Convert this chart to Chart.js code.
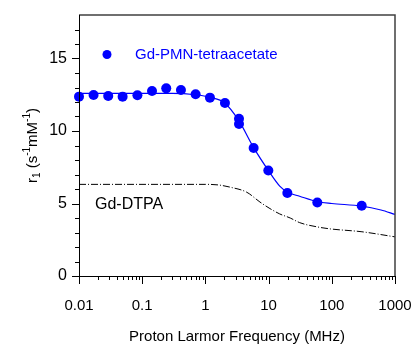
<!DOCTYPE html>
<html>
<head>
<meta charset="utf-8">
<script src="https://cdn.jsdelivr.net/npm/chart.js@4"></script>
<style>
html,body{margin:0;padding:0;background:#fff;}
#wrap{width:414px;height:344px;}
</style>
</head>
<body>
<div id="wrap"><canvas id="c" width="414" height="344"></canvas></div>
<script>
// Measured points: Gd-PMN-tetraacetate
const pointFreq = [0.01, 0.017, 0.029, 0.049, 0.084, 0.143, 0.24, 0.41, 0.70, 1.18, 2.04, 3.4, 3.4, 5.8, 9.9, 19.8, 59, 297];
const pointR1   = [12.37, 12.48, 12.41, 12.37, 12.46, 12.76, 12.94, 12.83, 12.53, 12.30, 11.93, 10.85, 10.48, 8.83, 7.27, 5.73, 5.07, 4.84];
// Fitted curve for Gd-PMN-tetraacetate
const fitFreq = [0.01, 0.1, 0.3, 0.7, 1.2, 2, 3.4, 5.8, 10, 15, 20, 31, 60, 100, 300, 600, 1000];
const fitR1   = [12.6, 12.6, 12.6, 12.5, 12.32, 11.95, 10.7, 8.85, 7.25, 6.2, 5.78, 5.5, 5.12, 5.0, 4.82, 4.55, 4.25];
// Gd-DTPA curve
const dtpaFreq = [0.01, 1, 1.6, 2.5, 4.5, 7.3, 10.5, 15, 22, 31, 60, 94, 300, 1000];
const dtpaR1   = [6.32, 6.32, 6.28, 6.12, 5.78, 5.1, 4.65, 4.28, 4.0, 3.68, 3.38, 3.25, 3.05, 2.7];
// Axis ticks
const xTickValues = [0.01, 0.1, 1, 10, 100, 1000];
const xTickLabels = ['0.01', '0.1', '1', '10', '100', '1000'];
const yTickValues = [0, 5, 10, 15];
const yTickLabels = ['0', '5', '10', '15'];
const yMinorValues = [1,2,3,4,6,7,8,9,11,12,13,14,16,17];
const seriesName = 'Gd-PMN-tetraacetate';
const refName = 'Gd-DTPA';

const FONT = "'Liberation Sans', Arial, sans-serif";
const BLUE = '#0000ff';

function zip(xs, ys){ return xs.map((x,i)=>({x:x, y:ys[i]})); }

const decorPlugin = {
  id: 'decor',
  afterDraw(chart){
    const ctx = chart.ctx;
    const a = chart.chartArea;
    const xs = chart.scales.x, ys = chart.scales.y;
    ctx.save();
    // frame top/right
    ctx.strokeStyle = '#404040';
    ctx.lineWidth = 1.5;
    ctx.beginPath();
    ctx.moveTo(a.left, a.top); ctx.lineTo(a.right, a.top); ctx.lineTo(a.right, a.bottom);
    ctx.stroke();
    // axes
    ctx.strokeStyle = '#000';
    ctx.lineWidth = 1;
    ctx.beginPath();
    ctx.moveTo(a.left+0.5, a.top); ctx.lineTo(a.left+0.5, a.bottom+0.5); ctx.lineTo(a.right, a.bottom+0.5);
    ctx.stroke();
    // x ticks
    ctx.beginPath();
    for (let d = 0; d < xTickValues.length; d++){
      const v = xTickValues[d];
      const px = Math.round(xs.getPixelForValue(v))+0.5;
      ctx.moveTo(px, a.bottom); ctx.lineTo(px, a.bottom+8);
      if (d < xTickValues.length-1){
        for (let m = 2; m <= 9; m++){
          const mp = Math.round(xs.getPixelForValue(v*m))+0.5;
          ctx.moveTo(mp, a.bottom); ctx.lineTo(mp, a.bottom+4);
        }
      }
    }
    // y ticks
    yTickValues.forEach(v=>{
      const py = Math.round(ys.getPixelForValue(v))+0.5;
      ctx.moveTo(a.left, py); ctx.lineTo(a.left-7, py);
    });
    yMinorValues.forEach(v=>{
      const py = Math.round(ys.getPixelForValue(v))+0.5;
      ctx.moveTo(a.left, py); ctx.lineTo(a.left-4, py);
    });
    ctx.stroke();

    // legend
    const lx = a.left + 28, ly = a.top + 39.5;
    ctx.fillStyle = BLUE;
    ctx.beginPath(); ctx.arc(lx, ly, 4.5, 0, Math.PI*2); ctx.fill();
    ctx.font = '15px ' + FONT;
    ctx.textBaseline = 'middle';
    ctx.textAlign = 'left';
    ctx.fillText(seriesName, a.left + 56, ly);
    // Gd-DTPA label
    ctx.fillStyle = '#000';
    ctx.font = '16px ' + FONT;
    ctx.fillText(refName, a.left + 16, ys.getPixelForValue(4.9));

    // y axis title with sub/superscripts
    const parts = [
      {t:'r', s:15, dy:0},
      {t:'1', s:10, dy:4},
      {t:' (s', s:15, dy:0},
      {t:'-1', s:10, dy:-6},
      {t:'mM', s:15, dy:0},
      {t:'-1', s:10, dy:-6},
      {t:')', s:15, dy:0}
    ];
    let total = 0;
    parts.forEach(p=>{ ctx.font = p.s+'px '+FONT; p.w = ctx.measureText(p.t).width; total += p.w; });
    ctx.translate(33, (a.top + a.bottom)/2);
    ctx.rotate(-Math.PI/2);
    ctx.fillStyle = '#000';
    ctx.textAlign = 'left';
    ctx.textBaseline = 'middle';
    let cx = -total/2;
    parts.forEach(p=>{
      ctx.font = p.s+'px '+FONT;
      ctx.fillText(p.t, cx, p.dy);
      cx += p.w;
    });
    ctx.restore();
  }
};

new Chart(document.getElementById('c'), {
  type: 'scatter',
  data: {
    datasets: [
      {
        label: refName,
        data: zip(dtpaFreq, dtpaR1),
        showLine: true,
        borderColor: '#000',
        borderWidth: 1,
        borderDash: [7, 2, 1, 2],
        pointRadius: 0,
        cubicInterpolationMode: 'monotone',
        fill: false
      },
      {
        label: seriesName + ' fit',
        data: zip(fitFreq, fitR1),
        showLine: true,
        borderColor: BLUE,
        borderWidth: 1.2,
        pointRadius: 0,
        cubicInterpolationMode: 'monotone',
        fill: false
      },
      {
        label: seriesName,
        data: zip(pointFreq, pointR1),
        showLine: false,
        pointRadius: 5,
        pointBackgroundColor: BLUE,
        pointBorderColor: BLUE,
        pointBorderWidth: 0
      }
    ]
  },
  options: {
    responsive: false,
    animation: false,
    events: [],
    clip: false,
    layout: { padding: { top: 15, right: 19, left: 0, bottom: 0 } },
    plugins: { legend: { display: false }, tooltip: { enabled: false } },
    scales: {
      x: {
        type: 'logarithmic',
        min: 0.01, max: 1000,
        border: { display: false },
        grid: { display: false, drawTicks: false },
        afterBuildTicks(s){ s.ticks = xTickValues.map(v=>({value:v})); },
        afterFit(s){ s.height = 68; s.paddingLeft = 0; s.paddingRight = 0; s.paddingTop = 0; s.paddingBottom = 0; },
        ticks: {
          autoSkip: false, maxRotation: 0,
          padding: 21,
          color: '#000',
          font: { family: FONT, size: 15 },
          callback(v, i){ return xTickLabels[i]; }
        },
        title: {
          display: true, text: 'Proton Larmor Frequency (MHz)',
          color: '#000', font: { family: FONT, size: 15 },
          padding: { top: 0, bottom: -2 }
        }
      },
      y: {
        min: 0, max: 18,
        border: { display: false },
        grid: { display: false, drawTicks: false },
        afterBuildTicks(s){ s.ticks = yTickValues.map(v=>({value:v})); },
        afterFit(s){ s.width = 79; s.paddingLeft = 0; s.paddingRight = 0; s.paddingTop = 0; s.paddingBottom = 0; },
        ticks: {
          autoSkip: false,
          padding: 12,
          color: '#000',
          font: { family: FONT, size: 16 },
          callback(v, i){ return yTickLabels[i]; }
        }
      }
    }
  },
  plugins: [decorPlugin]
});
</script>
</body>
</html>
